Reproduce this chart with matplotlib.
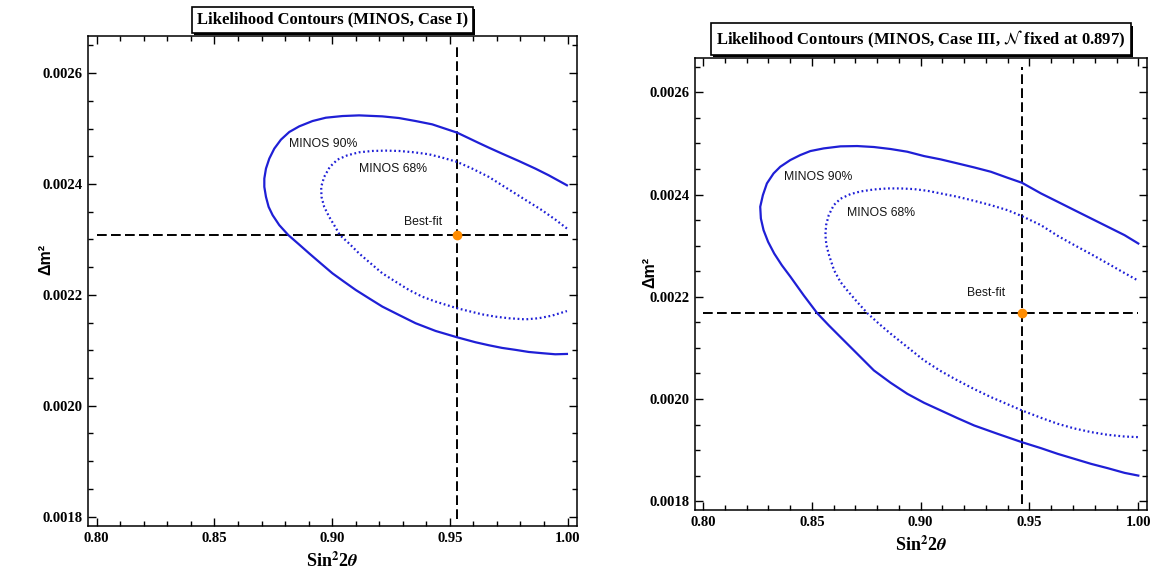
import matplotlib
matplotlib.use("Agg")
import matplotlib.pyplot as plt
from matplotlib.ticker import MultipleLocator, FormatStrFormatter
import matplotlib.patheffects as pe

plt.rcParams['mathtext.fontset'] = 'stix'

# ---------------- data: Case I ----------------
c1_bestfit_x = 0.953
c1_bestfit_y = 0.002308
c1_c90_x = [0.99972, 0.99195, 0.98630, 0.97924, 0.97217, 0.96653, 0.96229, 0.95311, 0.94251, 0.93545,
            0.92839, 0.92133, 0.91144, 0.90438, 0.89732, 0.89167, 0.88602, 0.88178, 0.87825, 0.87542,
            0.87330, 0.87189, 0.87119, 0.87119, 0.87189, 0.87302, 0.87472, 0.87754, 0.88140, 0.88580,
            0.89025, 0.89520, 0.90014, 0.90508, 0.91003, 0.91568, 0.92133, 0.92839, 0.93545, 0.94393,
            0.95311, 0.96088, 0.96653, 0.97217, 0.97783, 0.98347, 0.98913, 0.99477, 0.99972]
c1_c90_y = [0.0023977, 0.0024158, 0.0024278, 0.0024416, 0.0024548, 0.0024656, 0.0024740, 0.0024926, 0.0025076, 0.0025136,
            0.0025190, 0.0025220, 0.0025238, 0.0025226, 0.0025196, 0.0025136, 0.0025040, 0.0024938, 0.0024800, 0.0024638,
            0.0024458, 0.0024278, 0.0024098, 0.0023948, 0.0023768, 0.0023588, 0.0023438, 0.0023258, 0.0023078, 0.0022915,
            0.0022748, 0.0022567, 0.0022388, 0.0022237, 0.0022088, 0.0021937, 0.0021788, 0.0021637, 0.0021488, 0.0021349,
            0.0021234, 0.0021145, 0.0021091, 0.0021043, 0.0021008, 0.0020970, 0.0020948, 0.0020928, 0.0020934]
c1_c68_x = [0.99972, 0.99477, 0.98913, 0.98347, 0.97783, 0.97217, 0.96653, 0.95946, 0.95311, 0.94675,
            0.94110, 0.93474, 0.92839, 0.92274, 0.91709, 0.91144, 0.90650, 0.90226, 0.89901, 0.89661,
            0.89534, 0.89548, 0.89661, 0.89873, 0.90127, 0.90330, 0.90720, 0.91144, 0.91638, 0.92133,
            0.92698, 0.93263, 0.93828, 0.94393, 0.95311, 0.96370, 0.96935, 0.97500, 0.98206, 0.98771,
            0.99336, 0.99972]
c1_c68_y = [0.0023197, 0.0023359, 0.0023527, 0.0023677, 0.0023827, 0.0023977, 0.0024128, 0.0024278, 0.0024398, 0.0024476,
            0.0024536, 0.0024572, 0.0024596, 0.0024602, 0.0024596, 0.0024572, 0.0024518, 0.0024440, 0.0024308, 0.0024128,
            0.0023948, 0.0023768, 0.0023588, 0.0023408, 0.0023228, 0.0023078, 0.0022927, 0.0022747, 0.0022567, 0.0022388,
            0.0022237, 0.0022088, 0.0021967, 0.0021878, 0.0021758, 0.0021648, 0.0021607, 0.0021578, 0.0021558, 0.0021578,
            0.0021625, 0.0021708]

# ---------------- data: Case III ----------------
c3_bestfit_x = 0.9465
c3_bestfit_y = 0.002168
c3_c90_x = [1.0, 0.99370, 0.98602, 0.97834, 0.97066, 0.96298, 0.95530, 0.94654, 0.93990, 0.93226,
            0.92458, 0.91690, 0.90922, 0.90154, 0.89385, 0.88617, 0.87849, 0.87081, 0.86313, 0.85545,
            0.84931, 0.84470, 0.84009, 0.83548, 0.83241, 0.82934, 0.82749, 0.82627, 0.82657, 0.82780,
            0.82990, 0.83270, 0.83620, 0.84020, 0.84624, 0.85238, 0.85776, 0.86313, 0.87081, 0.87849,
            0.88617, 0.89385, 0.90154, 0.90922, 0.91690, 0.92458, 0.93533, 0.94654, 0.95530, 0.96298,
            0.97066, 0.97834, 0.98602, 0.99370, 1.0]
c3_c90_y = [0.0023042, 0.0023205, 0.0023368, 0.0023531, 0.0023694, 0.0023858, 0.0024021, 0.0024230, 0.0024328, 0.0024445,
            0.0024530, 0.0024609, 0.0024687, 0.0024752, 0.0024837, 0.0024890, 0.0024929, 0.0024948, 0.0024942, 0.0024902,
            0.0024850, 0.0024772, 0.0024674, 0.0024543, 0.0024413, 0.0024217, 0.0023988, 0.0023760, 0.0023531, 0.0023303,
            0.0023074, 0.0022846, 0.0022617, 0.0022389, 0.0022029, 0.0021683, 0.0021442, 0.0021213, 0.0020887, 0.0020560,
            0.0020319, 0.0020103, 0.0019927, 0.0019777, 0.0019627, 0.0019483, 0.0019320, 0.0019156, 0.0019039, 0.0018928,
            0.0018830, 0.0018732, 0.0018647, 0.0018556, 0.0018503]
c3_c68_x = [0.99908, 0.99217, 0.98602, 0.97834, 0.97066, 0.96298, 0.95530, 0.94654, 0.93990, 0.93226,
            0.92458, 0.91690, 0.90922, 0.90307, 0.89693, 0.89078, 0.88464, 0.87849, 0.87235, 0.86774,
            0.86313, 0.86006, 0.85776, 0.85653, 0.85622, 0.85668, 0.85790, 0.86020, 0.86313, 0.86621,
            0.87081, 0.87542, 0.88079, 0.88617, 0.89385, 0.90154, 0.90922, 0.91690, 0.92458, 0.93226,
            0.94654, 0.95530, 0.96298, 0.97066, 0.97834, 0.98602, 0.99370, 1.0]
c3_c68_y = [0.0022336, 0.0022500, 0.0022650, 0.0022833, 0.0023009, 0.0023192, 0.0023400, 0.0023577, 0.0023694, 0.0023792,
            0.0023877, 0.0023956, 0.0024021, 0.0024073, 0.0024106, 0.0024119, 0.0024119, 0.0024099, 0.0024060, 0.0024008,
            0.0023917, 0.0023792, 0.0023597, 0.0023400, 0.0023205, 0.0023009, 0.0022813, 0.0022519, 0.0022291, 0.0022127,
            0.0021899, 0.0021683, 0.0021474, 0.0021279, 0.0021017, 0.0020756, 0.0020547, 0.0020365, 0.0020195, 0.0020038,
            0.0019777, 0.0019633, 0.0019516, 0.0019424, 0.0019353, 0.0019300, 0.0019267, 0.0019255]

titles = ["Likelihood Contours (MINOS, Case I)",
          r"Likelihood Contours (MINOS, Case III, $\mathcal{N}$ fixed at 0.897)"]
label90 = "MINOS 90%"
label68 = "MINOS 68%"
label_bf = "Best-fit"
label_pos = [  # (90% label, 68% label, best-fit label) positions in data units
    ((0.896, 0.002473), (0.9258, 0.002427), (0.9386, 0.002331)),
    ((0.8528, 0.002435), (0.882, 0.002364), (0.930, 0.002208)),
]
ylabel_pos = [(-0.071, 0.543), (-0.084, 0.525)]
xlim = (0.7963, 1.0040)
ylim = (0.001783, 0.002667)
line_extent_x = (0.80, 1.00)
line_extent_y = (0.001795, 0.00265)

BLUE = "#1f1fd6"
fig = plt.figure(figsize=(11.54, 5.74), dpi=100)
W, H = 1154, 574
ax1 = fig.add_axes([88 / W, 1 - 526 / H, 489 / W, 490 / H])
ax2 = fig.add_axes([695 / W, 1 - 510 / H, 452 / W, 452 / H])

datasets = [
    (ax1, c1_c90_x, c1_c90_y, c1_c68_x, c1_c68_y, c1_bestfit_x, c1_bestfit_y),
    (ax2, c3_c90_x, c3_c90_y, c3_c68_x, c3_c68_y, c3_bestfit_x, c3_bestfit_y),
]

for i, (ax, x90, y90, x68, y68, bx, by) in enumerate(datasets):
    ax.plot(x90, y90, color=BLUE, lw=1.6, solid_joinstyle='round', zorder=3)
    ax.plot(x68, y68, color=BLUE, lw=1.6, linestyle=(0, (0.8, 1.2)), zorder=3)
    ax.plot(list(line_extent_x), [by, by], color='black', lw=1.4,
            linestyle=(0, (5.0, 2.2)), zorder=2)
    ax.plot([bx, bx], list(line_extent_y), color='black', lw=1.4,
            linestyle=(0, (5.0, 2.2)), zorder=2)
    ax.plot([bx], [by], 'o', color='#ff8c00', ms=6, zorder=4, mec='#ff8c00')
    p90, p68, pbf = label_pos[i]
    for txt, pos in ((label90, p90), (label68, p68), (label_bf, pbf)):
        ax.text(pos[0], pos[1], txt, ha='center', va='center', fontsize=8.8,
                family='Liberation Sans', color='#161616')

    ax.set_xlim(*xlim)
    ax.set_ylim(*ylim)
    ax.xaxis.set_major_locator(MultipleLocator(0.05))
    ax.xaxis.set_minor_locator(MultipleLocator(0.01))
    ax.yaxis.set_major_locator(MultipleLocator(0.0002))
    ax.yaxis.set_minor_locator(MultipleLocator(0.00005))
    ax.xaxis.set_major_formatter(FormatStrFormatter('%.2f'))
    ax.yaxis.set_major_formatter(FormatStrFormatter('%.4f'))
    ax.tick_params(which='both', direction='in', top=True, right=True, width=1.0)
    ax.tick_params(which='major', length=6)
    ax.tick_params(which='minor', length=3.5)
    ax.tick_params(axis='both', which='major', labelsize=10.5, pad=4)
    for lab in ax.get_xticklabels() + ax.get_yticklabels():
        lab.set_family('Liberation Serif')
        lab.set_weight('bold')
    for s in ax.spines.values():
        s.set_linewidth(1.1)
    ax.set_xlabel(r"Sin$^{\mathbf{2}}$2$\boldsymbol{\theta}$", fontsize=13,
                  family='Liberation Serif', weight='bold', labelpad=5)
    ax.set_ylabel("Δm²", fontsize=11.5, family='Liberation Sans', weight='bold')
    ax.yaxis.set_label_coords(*ylabel_pos[i])

    t = ax.annotate(titles[i], xy=(0.5, 1.0), xycoords='axes fraction',
                    xytext=(0, 6), textcoords='offset points',
                    ha='center', va='bottom',
                    fontsize=12, family='Liberation Serif', weight='bold',
                    bbox=dict(boxstyle='square,pad=0.3', fc='white', ec='black', lw=1.2),
                    zorder=10, annotation_clip=False)
    t.get_bbox_patch().set_path_effects([
        pe.SimplePatchShadow(offset=(1.5, -1.5), shadow_rgbFace='black', alpha=1.0),
        pe.Normal()])

fig.savefig("out.png", dpi=100)
